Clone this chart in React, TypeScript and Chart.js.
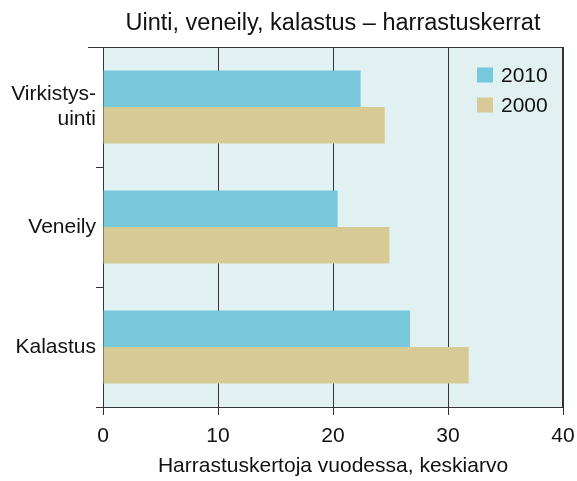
import React, { useEffect, useRef } from "react";
import { Chart, registerables } from "chart.js";

Chart.register(...registerables);

const categories: (string | string[])[] = [["Virkistys-", "uinti"], "Veneily", "Kalastus"];
const seriesLabels = ["2010", "2000"];
const values2010 = [22.4, 20.4, 26.7];
const values2000 = [24.5, 24.9, 31.8];
const xTicks = [0, 10, 20, 30, 40];
const titleText = "Uinti, veneily, kalastus – harrastuskerrat";
const xTitle = "Harrastuskertoja vuodessa, keskiarvo";

const COLOR_2010 = "#77c8da";
const COLOR_2000 = "#d8ca96";
const BG = "#e1f0f0";
const FONT = "'Liberation Sans', Arial, Helvetica, sans-serif";

const framePlugin = {
  id: "frame",
  beforeDraw(chart: any) {
    const { ctx, chartArea } = chart;
    ctx.save();
    ctx.fillStyle = BG;
    ctx.fillRect(chartArea.left, chartArea.top, chartArea.right - chartArea.left, chartArea.bottom - chartArea.top);
    ctx.restore();
  },
  afterDraw(chart: any) {
    const { ctx, chartArea } = chart;
    ctx.save();
    // title centred over plot area
    ctx.font = `23.5px ${FONT}`;
    ctx.fillStyle = "#111";
    ctx.textAlign = "center";
    ctx.textBaseline = "middle";
    ctx.fillText(titleText, (chartArea.left + chartArea.right) / 2, 24);
    // frame top/right
    ctx.strokeStyle = "#333";
    ctx.lineWidth = 1;
    ctx.beginPath();
    ctx.moveTo(chartArea.left - 15, chartArea.top + 0.5);
    ctx.lineTo(chartArea.right, chartArea.top + 0.5);
    ctx.moveTo(chartArea.right - 0.5, chartArea.top);
    ctx.lineTo(chartArea.right - 0.5, chartArea.bottom);
    ctx.stroke();
    // legend inside chart area
    const ds = chart.data.datasets;
    const x0 = chartArea.right - 86;
    let y0 = chartArea.top + 28;
    ctx.font = `21px ${FONT}`;
    ctx.textBaseline = "middle";
    ctx.textAlign = "left";
    for (let i = 0; i < ds.length; i++) {
      ctx.fillStyle = ds[i].backgroundColor;
      ctx.fillRect(x0, y0 - 7.5, 16, 15);
      ctx.fillStyle = "#111";
      ctx.fillText(ds[i].label, x0 + 24, y0 + 1);
      y0 += 30;
    }
    ctx.restore();
  },
};

export default function App() {
  const ref = useRef<HTMLCanvasElement>(null);
  useEffect(() => {
    if (!ref.current) return;
    const chart = new Chart(ref.current, {
      type: "bar",
      data: {
        labels: categories as any,
        datasets: [
          { label: seriesLabels[0], data: values2010, backgroundColor: COLOR_2010, barPercentage: 1, categoryPercentage: 0.61 },
          { label: seriesLabels[1], data: values2000, backgroundColor: COLOR_2000, barPercentage: 1, categoryPercentage: 0.61 },
        ],
      },
      plugins: [framePlugin],
      options: {
        indexAxis: "y",
        animation: false,
        responsive: false,
        maintainAspectRatio: false,
        layout: { padding: { left: 0, right: 14, top: 47, bottom: 0 } },
        plugins: {
          legend: { display: false },
          tooltip: { enabled: false },
          title: { display: false },
        },
        scales: {
          x: {
            type: "linear",
            min: xTicks[0],
            max: xTicks[xTicks.length - 1],
            afterBuildTicks: (scale: any) => {
              scale.ticks = xTicks.map((v) => ({ value: v }));
            },
            afterFit: (scale: any) => {
              scale.height = 74;
              scale.paddingLeft = 0;
              scale.paddingRight = 0;
            },
            ticks: { color: "#111", font: { family: FONT, size: 21 }, padding: 9, maxRotation: 0 },
            grid: { color: "#333", lineWidth: 1, tickLength: 8, drawOnChartArea: true },
            border: { display: true, color: "#333", width: 1 },
            title: {
              display: true,
              text: xTitle,
              color: "#111",
              font: { family: FONT, size: 21 },
              padding: { top: 0, bottom: 2 },
            },
          },
          y: {
            type: "category",
            afterFit: (scale: any) => {
              scale.width = 103;
            },
            ticks: { color: "#111", font: { family: FONT, size: 21, lineHeight: 1.2 }, padding: 0 },
            grid: { drawOnChartArea: false, drawTicks: true, tickLength: 7, color: "#333", offset: true },
            border: { display: true, color: "#333", width: 1 },
          },
        },
      },
    } as any);
    return () => chart.destroy();
  }, []);
  return (
    <div style={{ position: "fixed", left: 0, top: 0, width: 577, height: 481, background: "#fff" }}>
      <canvas ref={ref} width={577} height={481} style={{ display: "block", width: 577, height: 481 }} />
    </div>
  );
}
